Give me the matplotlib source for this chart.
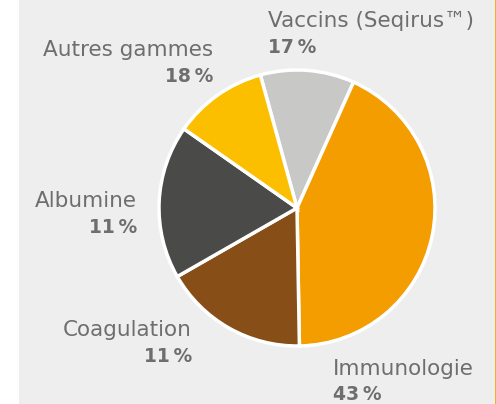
import matplotlib.pyplot as plt
from matplotlib.patches import Rectangle

# slices clockwise from the top
segments = ["Vaccins (Seqirus™)", "Immunologie", "Coagulation", "Albumine", "Autres gammes"]
sizes = [11, 43, 17, 18, 11]
pct_labels = ["17\u2009%", "43\u2009%", "11\u2009%", "11\u2009%", "18\u2009%"]
colors = ["#c8c8c6", "#f49d00", "#874f17", "#4a4a48", "#fbbf00"]

W, H = 496, 404
fig = plt.figure(figsize=(W / 100, H / 100), dpi=100)
fig.patch.set_facecolor("white")
ax = fig.add_axes([0, 0, 1, 1])

ax.add_patch(Rectangle((19, 0), 476, H, facecolor="#eeeeee", edgecolor="none", zorder=0))
ax.plot([495.5, 495.5], [0, H], color="#f49d00", lw=1.2, zorder=1)

ax.pie(sizes, colors=colors, startangle=105.4, counterclock=False,
       center=(297, H - 208), radius=138, frame=True,
       wedgeprops=dict(edgecolor="white", linewidth=2.5))

txt = "#6e6e6e"
# (x, name baseline y, pct baseline y, alignment) in pixel coords from the top
label_pos = [
    (268, 27, 53, "left"),
    (333, 375, 400, "left"),
    (192, 336, 362, "right"),
    (137, 207, 233, "right"),
    (213, 56, 82, "right"),
]
for name, pct, (x, y1, y2, ha) in zip(segments, pct_labels, label_pos):
    ax.text(x, H - y1, name, ha=ha, va="baseline", fontsize=15.5, color=txt,
            family="DejaVu Sans")
    ax.text(x, H - y2, pct, ha=ha, va="baseline", fontsize=13.5, color=txt,
            fontweight="bold", family="DejaVu Sans")

ax.set_xlim(0, W)
ax.set_ylim(0, H)
ax.axis("off")

fig.savefig("out.png", dpi=100)
